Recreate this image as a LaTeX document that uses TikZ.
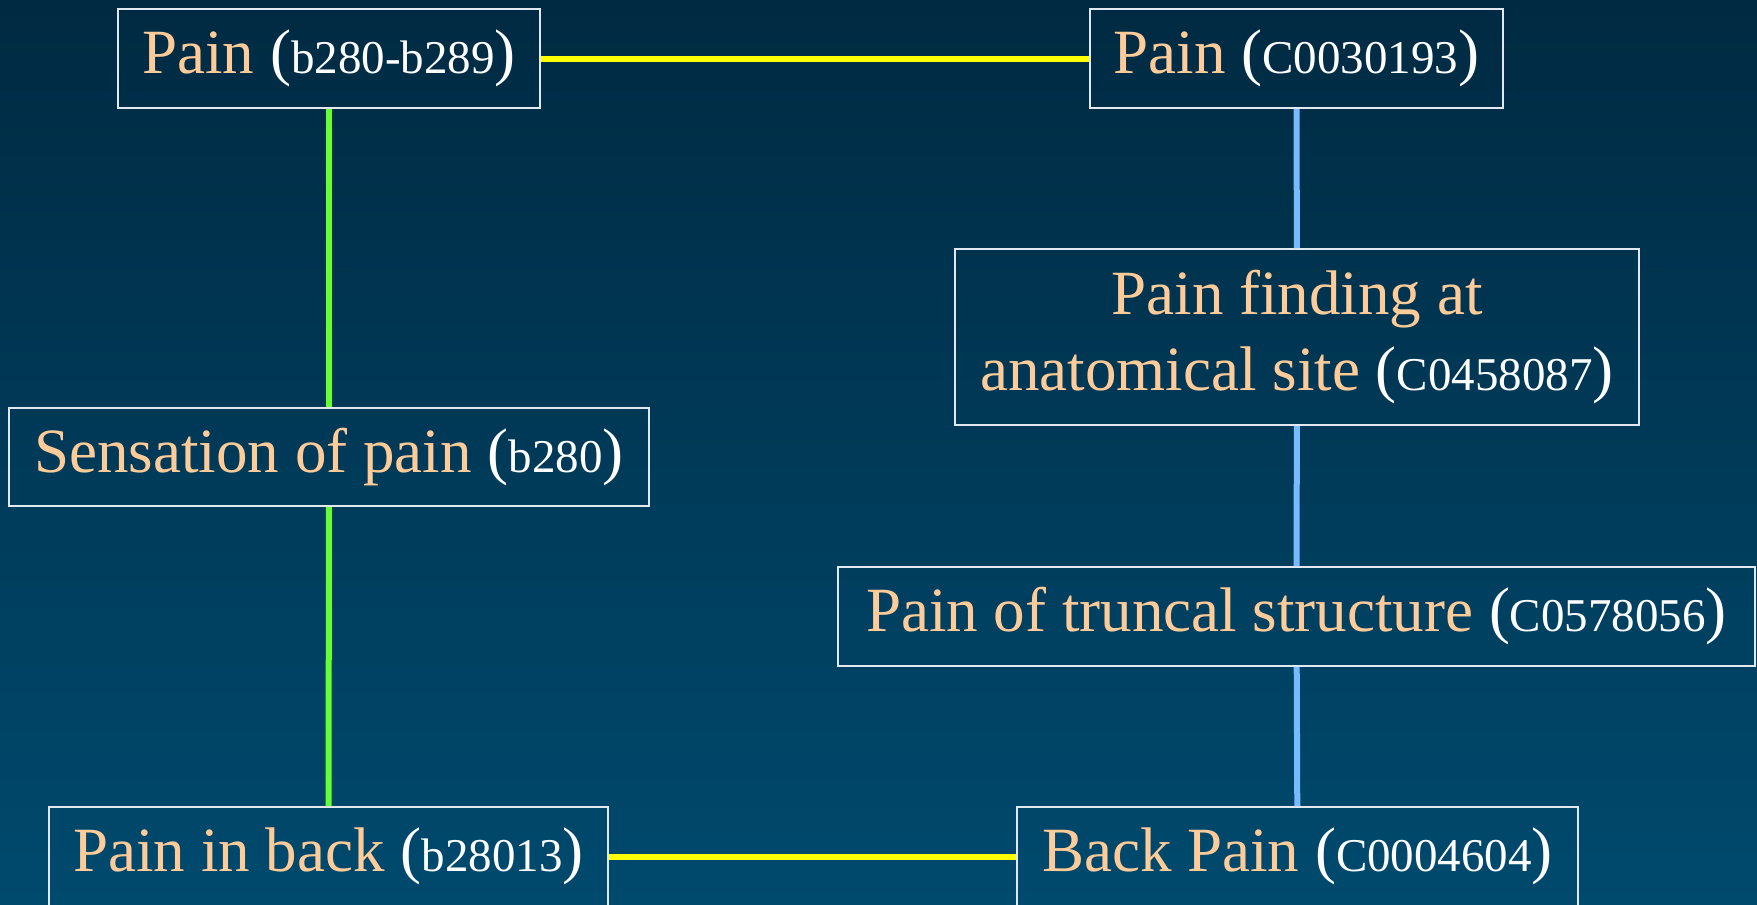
\documentclass[tikz,border=0pt]{standalone}
\usepackage{fontspec}
\setmainfont{Liberation Serif}
\newfontfamily\timesfont{Liberation Serif}
\definecolor{bgtop}{RGB}{0,42,66}
\definecolor{bgbot}{RGB}{0,74,110}
\definecolor{peach}{RGB}{255,204,153}
\definecolor{icfgreen}{RGB}{102,255,51}
\definecolor{umlsblue}{RGB}{119,187,255}
\definecolor{linkyellow}{RGB}{255,255,0}
\definecolor{boxline}{RGB}{225,232,240}
\newcommand{\code}[1]{\textcolor{white}{({\fontsize{47}{54}\selectfont #1})}}
\begin{document}
\begin{tikzpicture}[x=1pt,y=1pt,yscale=-1,xscale=1,
    concept/.style={draw=boxline,line width=2pt,text=peach,align=center,
      inner sep=0pt,font=\timesfont\fontsize{63}{76}\selectfont},
    icflink/.style={draw=icfgreen,line width=6pt},
    umlslink/.style={draw=umlsblue,line width=6pt},
    maplink/.style={draw=linkyellow,line width=6pt}]
  %background
  \shade[top color=bgtop,bottom color=bgbot] (0,0) rectangle (1757,905);
  \useasboundingbox (0,0) rectangle (1757,905);

  % ICF side
  \node[concept,minimum width=422,minimum height=99] (painicf) at (329,58.5) {Pain \code{b280-b289}};
  \node[concept,minimum width=640,minimum height=98] (sensation) at (329,457) {Sensation of pain \code{b280}};
  \node[concept,minimum width=559,minimum height=99] (backicf) at (328.5,856.5) {Pain in back \code{b28013}};

  % UMLS side
  \node[concept,minimum width=413,minimum height=99] (painumls) at (1296.5,58.5) {Pain \code{C0030193}};
  \node[concept,minimum width=684,minimum height=176] (finding) at (1297,337) {Pain finding at\\anatomical site \code{C0458087}};
  \node[concept,minimum width=917,minimum height=99] (truncal) at (1296.5,616.5) {Pain of truncal structure \code{C0578056}};
  \node[concept,minimum width=561,minimum height=99] (backumls) at (1297.5,856.5) {Back Pain \code{C0004604}};

  % hierarchy links
  \draw[icflink] (painicf) -- (sensation);
  \draw[icflink] (sensation) -- (backicf);
  \draw[umlslink] (painumls) -- (finding);
  \draw[umlslink] (finding) -- (truncal);
  \draw[umlslink] (truncal) -- (backumls);

  % mappings
  \draw[maplink] (painicf) -- (painumls);
  \draw[maplink] (backicf) -- (backumls);
\end{tikzpicture}
\end{document}
